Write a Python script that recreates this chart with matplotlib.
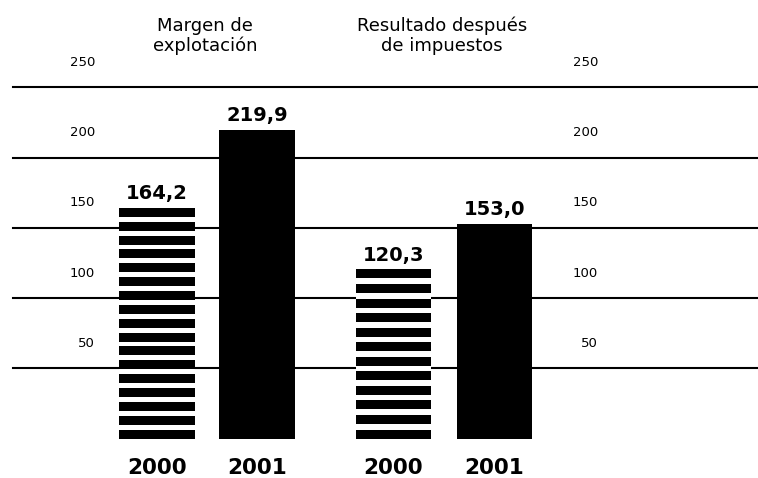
import matplotlib.pyplot as plt
import numpy as np

# data
groups = ['Margen de\nexplotación', 'Resultado después\nde impuestos']
years = ['2000', '2001', '2000', '2001']
values = [164.2, 219.9, 120.3, 153.0]
labels = ['164,2', '219,9', '120,3', '153,0']
striped = [True, False, True, False]
grid_vals = [50, 100, 150, 200, 250]

# layout (x in units of 100 px, first bar centred at 0)
pos = np.array([0, 1, 2.365, 3.375])
width = 0.755
stripe = 6.4  # thickness of one stripe, in data units

fig = plt.figure(figsize=(7.58, 4.78), dpi=100)
ax = fig.add_axes([0, 0, 1, 1])
ax.set_xlim(-1.57, 6.01)
ax.set_ylim(-28.1, 312.1)
ax.axis('off')

# horizontal gridlines behind the bars
for g in grid_vals:
    ax.plot([-1.44, 6.01], [g, g], color='black', lw=1.5, zorder=1)
    ax.annotate(str(g), xy=(-0.62, g), xytext=(0, 18), textcoords='offset points',
                ha='right', va='center', fontsize=9.5)
    ax.annotate(str(g), xy=(4.41, g), xytext=(0, 18), textcoords='offset points',
                ha='right', va='center', fontsize=9.5)

for x, v, lab, st, yr in zip(pos, values, labels, striped, years):
    if st:
        # white backing so the gridlines don't show in the gaps
        ax.bar(x, v, width=width, color='white', zorder=2)
        # stripes spread evenly from the baseline up to the value (~10 units apart)
        n = int(round((v - stripe) / 10)) + 1
        bots = np.linspace(0, v - stripe, n)
        ax.bar(np.full(n, x), stripe, bottom=bots, width=width, color='black', zorder=3)
    else:
        ax.bar(x, v, width=width, color='black', zorder=3)
    ax.annotate(lab, xy=(x, v), xytext=(0, 6), textcoords='offset points',
                ha='center', va='baseline', fontsize=14, fontweight='bold')
    ax.annotate(yr, xy=(x, 0), xytext=(0, -21), textcoords='offset points',
                ha='center', va='center', fontsize=15.5, fontweight='bold')

for i, name in enumerate(groups):
    cx = pos[2 * i:2 * i + 2].mean() - 0.02
    ax.text(cx, 286.5, name, ha='center', va='center', fontsize=13, linespacing=1.12)

plt.savefig('out.png', dpi=100)
